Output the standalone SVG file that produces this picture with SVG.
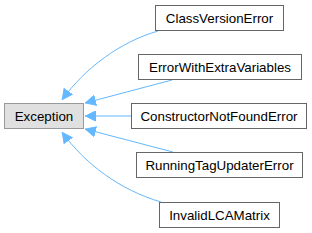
<svg xmlns="http://www.w3.org/2000/svg" width="312" height="233" viewBox="0 0 312 233">
<style>
.box{fill:#ffffff;stroke:#666666;stroke-width:1}
.base{fill:#e0e0e0;stroke:#999999;stroke-width:1}
.lbl{font-family:"Liberation Sans",Arial,sans-serif;font-size:13.33px;fill:#000000;text-anchor:middle}
.edge{fill:none;stroke:#63b8ff;stroke-width:1}
</style>
<defs>
<marker id="ah" viewBox="0 0 11 11" refX="11" refY="5.5" markerWidth="11" markerHeight="11" markerUnits="userSpaceOnUse" orient="auto">
<path d="M0.5,0.5 L10.5,5.5 L0.5,10.5 Z" fill="#63b8ff" stroke="#63b8ff" stroke-width="1"/>
</marker>
</defs>
<g id="edges">
<path class="edge" marker-end="url(#ah)" d="M158,31 C120,42 85,68 62,100"/>
<path class="edge" marker-end="url(#ah)" d="M172,80 L85,103"/>
<path class="edge" marker-end="url(#ah)" d="M131,116 L85,116"/>
<path class="edge" marker-end="url(#ah)" d="M173,152 L85,129"/>
<path class="edge" marker-end="url(#ah)" d="M161,202 C120,190 85,164 62,132"/>
</g>
<g id="Exception">
<rect class="base" x="4.5" y="103.5" width="79" height="25"/>
<text class="lbl" x="44" y="120.5">Exception</text>
</g>
<g id="ClassVersionError">
<rect class="box" x="155.5" y="5.5" width="128" height="25"/>
<text class="lbl" x="219.5" y="22.5">ClassVersionError</text>
</g>
<g id="ErrorWithExtraVariables">
<rect class="box" x="138.5" y="54.5" width="163" height="25"/>
<text class="lbl" x="220" y="71.5">ErrorWithExtraVariables</text>
</g>
<g id="ConstructorNotFoundError">
<rect class="box" x="131.5" y="103.5" width="175" height="25"/>
<text class="lbl" x="219" y="120.5">ConstructorNotFoundError</text>
</g>
<g id="RunningTagUpdaterError">
<rect class="box" x="136.5" y="152.5" width="166" height="25"/>
<text class="lbl" x="219.5" y="169.5">RunningTagUpdaterError</text>
</g>
<g id="InvalidLCAMatrix">
<rect class="box" x="159.5" y="202.5" width="120" height="25"/>
<text class="lbl" x="219.5" y="219.5">InvalidLCAMatrix</text>
</g>
</svg>
